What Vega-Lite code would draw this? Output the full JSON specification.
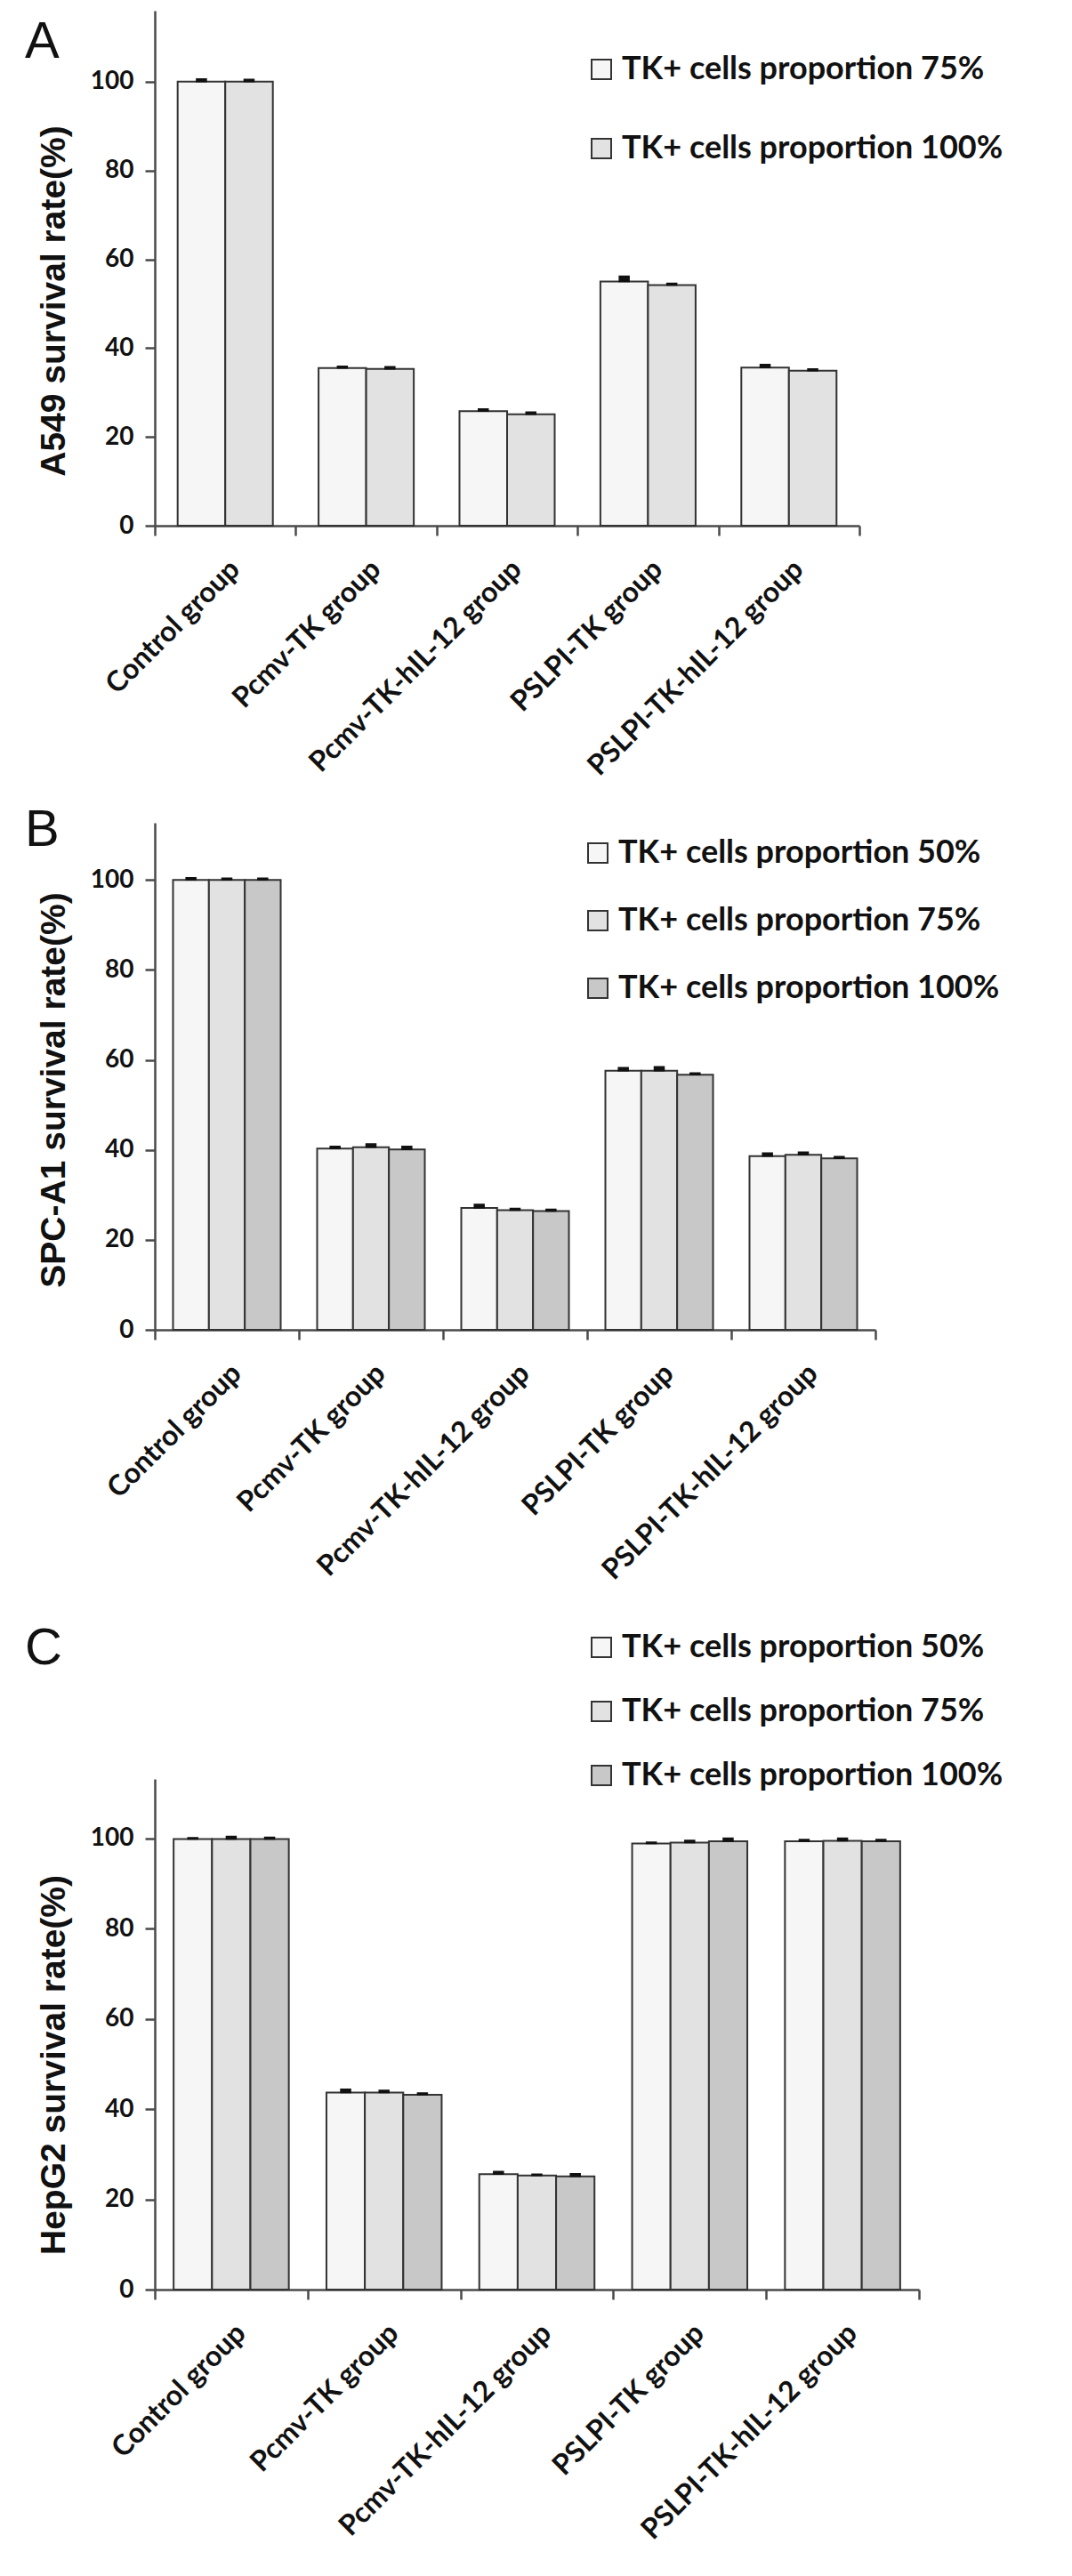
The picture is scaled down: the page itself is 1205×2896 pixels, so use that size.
{
  "$schema": "https://vega.github.io/schema/vega-lite/v6.json",
  "background": "white",
  "padding": {"left": 28, "top": 12, "right": 10, "bottom": 10},
  "datasets": {
    "a549": [
      {"group": "Control group", "prop": "TK+ cells proportion 75%", "value": 100, "upper": 100.6},
      {"group": "Control group", "prop": "TK+ cells proportion 100%", "value": 100, "upper": 100.5},
      {"group": "Pcmv-TK group", "prop": "TK+ cells proportion 75%", "value": 35.5, "upper": 35.9},
      {"group": "Pcmv-TK group", "prop": "TK+ cells proportion 100%", "value": 35.3, "upper": 35.8},
      {"group": "Pcmv-TK-hIL-12 group", "prop": "TK+ cells proportion 75%", "value": 25.8, "upper": 26.3},
      {"group": "Pcmv-TK-hIL-12 group", "prop": "TK+ cells proportion 100%", "value": 25.1, "upper": 25.6},
      {"group": "PSLPI-TK group", "prop": "TK+ cells proportion 75%", "value": 55.0, "upper": 56.2},
      {"group": "PSLPI-TK group", "prop": "TK+ cells proportion 100%", "value": 54.2, "upper": 54.6},
      {"group": "PSLPI-TK-hIL-12 group", "prop": "TK+ cells proportion 75%", "value": 35.6, "upper": 36.3},
      {"group": "PSLPI-TK-hIL-12 group", "prop": "TK+ cells proportion 100%", "value": 34.9, "upper": 35.3}
    ],
    "spca1": [
      {"group": "Control group", "prop": "TK+ cells proportion 50%", "value": 100, "upper": 100.5},
      {"group": "Control group", "prop": "TK+ cells proportion 75%", "value": 100, "upper": 100.4},
      {"group": "Control group", "prop": "TK+ cells proportion 100%", "value": 100, "upper": 100.4},
      {"group": "Pcmv-TK group", "prop": "TK+ cells proportion 50%", "value": 40.3, "upper": 40.8},
      {"group": "Pcmv-TK group", "prop": "TK+ cells proportion 75%", "value": 40.6, "upper": 41.3},
      {"group": "Pcmv-TK group", "prop": "TK+ cells proportion 100%", "value": 40.1, "upper": 40.8},
      {"group": "Pcmv-TK-hIL-12 group", "prop": "TK+ cells proportion 50%", "value": 27.1, "upper": 27.9},
      {"group": "Pcmv-TK-hIL-12 group", "prop": "TK+ cells proportion 75%", "value": 26.6, "upper": 27.0},
      {"group": "Pcmv-TK-hIL-12 group", "prop": "TK+ cells proportion 100%", "value": 26.4, "upper": 26.8},
      {"group": "PSLPI-TK group", "prop": "TK+ cells proportion 50%", "value": 57.6, "upper": 58.3},
      {"group": "PSLPI-TK group", "prop": "TK+ cells proportion 75%", "value": 57.6, "upper": 58.5},
      {"group": "PSLPI-TK group", "prop": "TK+ cells proportion 100%", "value": 56.7, "upper": 57.1},
      {"group": "PSLPI-TK-hIL-12 group", "prop": "TK+ cells proportion 50%", "value": 38.6, "upper": 39.3},
      {"group": "PSLPI-TK-hIL-12 group", "prop": "TK+ cells proportion 75%", "value": 38.9, "upper": 39.5},
      {"group": "PSLPI-TK-hIL-12 group", "prop": "TK+ cells proportion 100%", "value": 38.1, "upper": 38.5}
    ],
    "hepg2": [
      {"group": "Control group", "prop": "TK+ cells proportion 50%", "value": 99.9, "upper": 100.2},
      {"group": "Control group", "prop": "TK+ cells proportion 75%", "value": 99.9, "upper": 100.5},
      {"group": "Control group", "prop": "TK+ cells proportion 100%", "value": 99.9, "upper": 100.3},
      {"group": "Pcmv-TK group", "prop": "TK+ cells proportion 50%", "value": 43.7, "upper": 44.4},
      {"group": "Pcmv-TK group", "prop": "TK+ cells proportion 75%", "value": 43.7, "upper": 44.2},
      {"group": "Pcmv-TK group", "prop": "TK+ cells proportion 100%", "value": 43.2, "upper": 43.6},
      {"group": "Pcmv-TK-hIL-12 group", "prop": "TK+ cells proportion 50%", "value": 25.6, "upper": 26.2},
      {"group": "Pcmv-TK-hIL-12 group", "prop": "TK+ cells proportion 75%", "value": 25.3, "upper": 25.6},
      {"group": "Pcmv-TK-hIL-12 group", "prop": "TK+ cells proportion 100%", "value": 25.1, "upper": 25.7},
      {"group": "PSLPI-TK group", "prop": "TK+ cells proportion 50%", "value": 98.9, "upper": 99.2},
      {"group": "PSLPI-TK group", "prop": "TK+ cells proportion 75%", "value": 99.1, "upper": 99.6},
      {"group": "PSLPI-TK group", "prop": "TK+ cells proportion 100%", "value": 99.4, "upper": 100.1},
      {"group": "PSLPI-TK-hIL-12 group", "prop": "TK+ cells proportion 50%", "value": 99.4, "upper": 99.8},
      {"group": "PSLPI-TK-hIL-12 group", "prop": "TK+ cells proportion 75%", "value": 99.5, "upper": 100.1},
      {"group": "PSLPI-TK-hIL-12 group", "prop": "TK+ cells proportion 100%", "value": 99.4, "upper": 99.8}
    ]
  },
  "spacing": 43,
  "resolve": {
    "scale": {"x": "independent", "xOffset": "independent", "y": "independent", "color": "independent"},
    "legend": {"color": "independent"}
  },
  "vconcat": [
    {
      "spacing": 27,
      "resolve": {
        "scale": {"x": "independent", "xOffset": "independent", "y": "independent", "color": "independent"},
        "legend": {"color": "independent"}
      },
      "vconcat": [
        {
          "title": {"text": "A", "offset": -65},
          "width": 792,
          "height": 579,
          "data": {"name": "a549"},
          "encoding": {
            "x": {
              "field": "group",
              "type": "nominal",
              "sort": ["Control group", "Pcmv-TK group", "Pcmv-TK-hIL-12 group", "PSLPI-TK group", "PSLPI-TK-hIL-12 group"],
              "scale": {"paddingInner": 0, "paddingOuter": 0},
              "axis": {"title": null}
            },
            "xOffset": {
              "field": "prop",
              "sort": ["TK+ cells proportion 75%", "TK+ cells proportion 100%"],
              "scale": {"paddingInner": 0, "paddingOuter": 0.48}
            },
            "y": {
              "field": "value",
              "type": "quantitative",
              "scale": {"domain": [0, 116], "nice": false},
              "axis": {"title": "A549 survival rate(%)", "values": [0, 20, 40, 60, 80, 100], "titleY": 326}
            }
          },
          "layer": [
            {
              "mark": {"type": "bar", "stroke": "#333333", "strokeWidth": 2},
              "encoding": {
                "color": {
                  "field": "prop",
                  "type": "nominal",
                  "scale": {"domain": ["TK+ cells proportion 75%", "TK+ cells proportion 100%"], "range": ["#f6f6f6", "#e2e2e2"]},
                  "legend": {"legendX": 484, "legendY": 48, "rowPadding": 53}
                }
              }
            },
            {
              "mark": {"type": "bar", "width": 11, "color": "#111111", "stroke": "#111111", "strokeWidth": 1.5},
              "encoding": {"y2": {"field": "upper"}}
            }
          ]
        },
        {
          "title": {"text": "B", "offset": -38},
          "width": 810,
          "height": 570,
          "data": {"name": "spca1"},
          "encoding": {
            "x": {
              "field": "group",
              "type": "nominal",
              "sort": ["Control group", "Pcmv-TK group", "Pcmv-TK-hIL-12 group", "PSLPI-TK group", "PSLPI-TK-hIL-12 group"],
              "scale": {"paddingInner": 0, "paddingOuter": 0},
              "axis": {"title": null}
            },
            "xOffset": {
              "field": "prop",
              "sort": ["TK+ cells proportion 50%", "TK+ cells proportion 75%", "TK+ cells proportion 100%"],
              "scale": {"paddingInner": 0, "paddingOuter": 0.508}
            },
            "y": {
              "field": "value",
              "type": "quantitative",
              "scale": {"domain": [0, 112.7], "nice": false},
              "axis": {"title": "SPC-A1 survival rate(%)", "values": [0, 20, 40, 60, 80, 100], "titleY": 300}
            }
          },
          "layer": [
            {
              "mark": {"type": "bar", "stroke": "#333333", "strokeWidth": 2},
              "encoding": {
                "color": {
                  "field": "prop",
                  "type": "nominal",
                  "scale": {"domain": ["TK+ cells proportion 50%", "TK+ cells proportion 75%", "TK+ cells proportion 100%"], "range": ["#f6f6f6", "#e2e2e2", "#c8c8c8"]},
                  "legend": {"legendX": 480, "legendY": 16, "rowPadding": 40}
                }
              }
            },
            {
              "mark": {"type": "bar", "width": 11, "color": "#111111", "stroke": "#111111", "strokeWidth": 1.5},
              "encoding": {"y2": {"field": "upper"}}
            }
          ]
        }
      ]
    },
    {
      "title": {"text": "C", "offset": -49},
      "width": 859,
      "height": 574,
      "data": {"name": "hepg2"},
      "encoding": {
        "x": {
          "field": "group",
          "type": "nominal",
          "sort": ["Control group", "Pcmv-TK group", "Pcmv-TK-hIL-12 group", "PSLPI-TK group", "PSLPI-TK-hIL-12 group"],
          "scale": {"paddingInner": 0, "paddingOuter": 0},
          "axis": {"title": null}
        },
        "xOffset": {
          "field": "prop",
          "sort": ["TK+ cells proportion 50%", "TK+ cells proportion 75%", "TK+ cells proportion 100%"],
          "scale": {"paddingInner": 0, "paddingOuter": 0.49}
        },
        "y": {
          "field": "value",
          "type": "quantitative",
          "scale": {"domain": [0, 113.2], "nice": false},
          "axis": {"title": "HepG2 survival rate(%)", "values": [0, 20, 40, 60, 80, 100], "titleY": 321}
        }
      },
      "layer": [
        {
          "mark": {"type": "bar", "stroke": "#333333", "strokeWidth": 2},
          "encoding": {
            "color": {
              "field": "prop",
              "type": "nominal",
              "scale": {"domain": ["TK+ cells proportion 50%", "TK+ cells proportion 75%", "TK+ cells proportion 100%"], "range": ["#f6f6f6", "#e2e2e2", "#c8c8c8"]},
              "legend": {"legendX": 484, "legendY": -166, "rowPadding": 36}
            }
          }
        },
        {
          "mark": {"type": "bar", "width": 11, "color": "#111111", "stroke": "#111111", "strokeWidth": 1.5},
          "encoding": {"y2": {"field": "upper"}}
        }
      ]
    }
  ],
  "config": {
    "view": {"stroke": null},
    "axis": {
      "grid": false,
      "domainColor": "#4a4a4a",
      "domainWidth": 2.5,
      "tickColor": "#4a4a4a",
      "tickWidth": 2.5,
      "tickSize": 11,
      "labelFont": "Lato",
      "labelFontWeight": "bold",
      "labelColor": "#111111",
      "labelFontSize": 28,
      "labelLimit": 600,
      "titleFont": "Liberation Sans",
      "titleFontSize": 39,
      "titleFontWeight": "bold",
      "titleColor": "#111111"
    },
    "axisX": {
      "labelAngle": -45,
      "labelFontSize": 32,
      "labelPadding": 22,
      "tickBand": "extent"
    },
    "axisY": {
      "labelPadding": 13,
      "titleX": -114,
      "titleBaseline": "middle",
      "titleAlign": "center",
      "titleAngle": -90
    },
    "legend": {
      "orient": "none",
      "title": null,
      "symbolType": "square",
      "symbolSize": 484,
      "symbolStrokeColor": "#333333",
      "symbolStrokeWidth": 2,
      "labelFont": "Lato",
      "labelFontWeight": "bold",
      "labelFontSize": 36,
      "labelColor": "#111111",
      "labelOffset": 5,
      "labelLimit": 0,
      "padding": 0
    },
    "title": {
      "anchor": "start",
      "frame": "group",
      "dx": -146,
      "baseline": "alphabetic",
      "font": "Liberation Sans",
      "fontSize": 58,
      "fontWeight": "normal",
      "color": "#111111"
    }
  }
}
